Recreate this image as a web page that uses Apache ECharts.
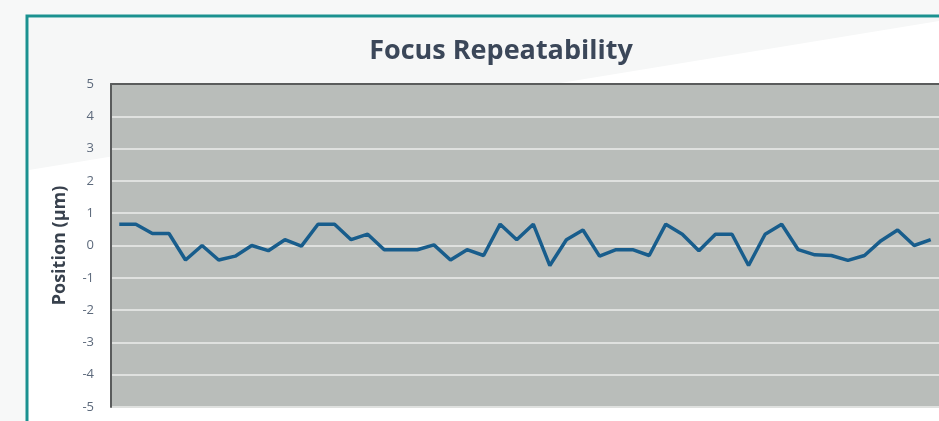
<!DOCTYPE html>
<html>
<head>
<meta charset="utf-8">
<script src="https://cdn.jsdelivr.net/npm/echarts@6/dist/echarts.min.js"></script>
<style>
html,body{margin:0;padding:0;background:#f7f8f8;}
#c{width:939px;height:421px;}
</style>
</head>
<body>
<div id="c"></div>
<script>
const titleText = "Focus Repeatability";
const yAxisName = "Position (µm)";
const categories = [];
for (let i = 1; i <= 50; i++) categories.push(String(i));
const positions = [
  0.66, 0.66, 0.37, 0.37, -0.45, 0.0, -0.45, -0.33, 0.0, -0.16,
  0.18, -0.02, 0.66, 0.66, 0.18, 0.35, -0.13, -0.13, -0.13, 0.02,
  -0.45, -0.13, -0.31, 0.66, 0.18, 0.66, -0.62, 0.18, 0.48, -0.33,
  -0.13, -0.13, -0.31, 0.66, 0.35, -0.16, 0.35, 0.35, -0.62, 0.35,
  0.66, -0.13, -0.29, -0.31, -0.46, -0.31, 0.15, 0.48, 0.0, 0.18
];
const yMin = -5, yMax = 5, yStep = 1;

const chart = echarts.init(document.getElementById('c'), null, {renderer: 'canvas'});
chart.setOption({
  backgroundColor: '#f7f8f8',
  animation: false,
  graphic: [
    {type: 'rect', z: -10, shape: {x: 27, y: 16, width: 960, height: 460},
     style: {fill: '#ffffff', stroke: '#1b9190', lineWidth: 3}},
    {type: 'polygon', z: -9, shape: {points: [[29, 18], [939, 18], [939, 21], [29, 170]]},
     style: {fill: '#f6f7f7'}}
  ],
  title: {
    text: titleText,
    left: 496, top: 33, textAlign: 'center',
    textStyle: {fontFamily: 'Open Sans', fontWeight: 'bold', fontSize: 27, color: '#3b4759'}
  },
  grid: {
    left: 111, top: 84, width: 833, bottom: 14,
    show: true, backgroundColor: '#b9bdba', borderWidth: 0
  },
  xAxis: {
    type: 'category', data: categories, boundaryGap: true, position: 'top',
    axisLine: {show: true, onZero: false, lineStyle: {color: '#5a5c5c', width: 2}},
    axisTick: {show: false}, axisLabel: {show: false}, splitLine: {show: false}
  },
  yAxis: {
    type: 'value', min: yMin, max: yMax, interval: yStep,
    name: yAxisName, nameLocation: 'middle', nameGap: 42, nameRotate: 90,
    nameTextStyle: {fontFamily: 'Open Sans', fontWeight: 'bold', fontSize: 18, color: '#38414d'},
    axisLine: {show: true, onZero: false, lineStyle: {color: '#5a5c5c', width: 2}},
    axisTick: {show: false},
    axisLabel: {margin: 17, fontFamily: 'Open Sans', fontSize: 13, color: '#5d6a7c'},
    splitLine: {show: true, lineStyle: {color: '#dfe1df', width: 2}}
  },
  series: [{
    type: 'line', data: positions, symbol: 'none', smooth: false,
    lineStyle: {color: '#185d8c', width: 3.5}
  }]
});
</script>
</body>
</html>
